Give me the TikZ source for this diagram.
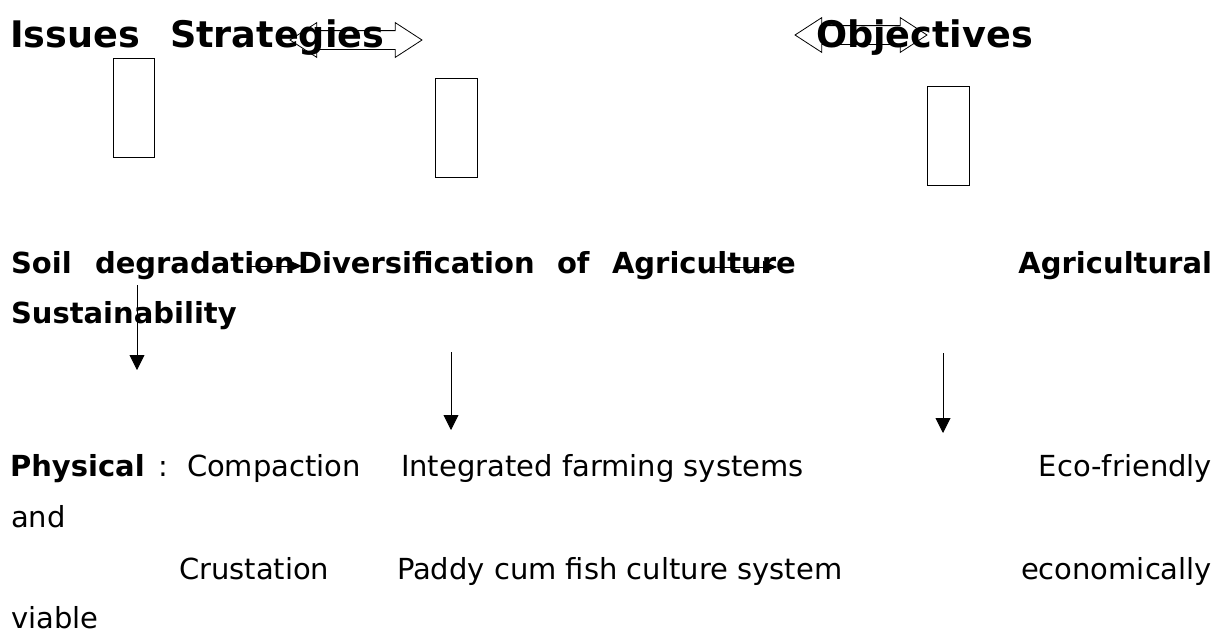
\documentclass[tikz,border=0pt]{standalone}
\usepackage{fontspec}
\setmainfont{DejaVu Sans}
\usetikzlibrary{arrows.meta, shapes.arrows}

\begin{document}
\begin{tikzpicture}[
        x=1pt, y=-1pt,
        every node/.style={inner sep=0pt, outer sep=0pt},
        titlew/.style={anchor=base west, font=\fontsize{36.6}{44}\selectfont\bfseries},
        headw/.style={anchor=base west, font=\fontsize{29}{35}\selectfont\bfseries},
        headr/.style={headw, anchor=base east},
        bodyw/.style={anchor=base west, font=\fontsize{29}{35}\selectfont},
        bodyr/.style={bodyw, anchor=base east},
        tallbox/.style={draw, line width=0.9pt, minimum width=41pt,
                        minimum height=99pt, anchor=north west},
        twoway/.style={double arrow, draw, line width=0.8pt,
                       inner xsep=0pt, inner ysep=9pt, minimum height=132pt,
                       double arrow head extend=8pt, double arrow tip angle=66},
        flow/.style={-{Triangle[length=14pt, width=12pt]}, line width=0.9pt},
        dropline/.style={-{Triangle[length=15pt, width=15pt]}, line width=0.9pt}
    ]
        \useasboundingbox (0,0) rectangle (1216,633);

        % column titles
        \node[titlew] (issues) at (10,47)  {Issues};
        \node[titlew] (strat)  at (170,47) {Strategies};
        \node[titlew] (objs)   at (816,47) {Objectives};

        \node[twoway] (swap1) at (356,40) {};
        \node[twoway] (swap2) at (861,35) {};

        \node[tallbox] (box1) at (113,58) {};
        \node[tallbox, minimum width=42pt] (box2) at (435,78) {};
        \node[tallbox, minimum width=42pt] (box3) at (927,86) {};

        % second row
        \node[headw] (soil)  at (11,273)  {Soil};
        \node[headw] (degr)  at (95,273)  {degradation};
        \node[headw] (diver) at (298,273) {Diversification};
        \node[headw] (of)    at (557,273) {of};
        \node[headw] (agri)  at (612,273) {Agriculture};
        \node[headr] (agril) at (1212,273) {Agricultural};
        \node[headw] (sust)  at (11,323)  {Sustainability};

        \coordinate (f1a) at (250,266);
        \coordinate (f1b) at (302,266);
        \coordinate (f2a) at (715,267);
        \coordinate (f2b) at (777,267);
        \draw[flow] (f1a) -- (f1b);
        \draw[flow] (f2a) -- (f2b);

        \coordinate (d1a) at (137,285);
        \coordinate (d1b) at (137,370);
        \coordinate (d2a) at (451,352);
        \coordinate (d2b) at (451,430);
        \coordinate (d3a) at (943,353);
        \coordinate (d3b) at (943,433);
        \draw[dropline] (d1a) -- (d1b);
        \draw[dropline] (d2a) -- (d2b);
        \draw[dropline] (d3a) -- (d3b);

        % lower rows
        \node[headw] (phys)  at (10,476)  {Physical};
        \node[bodyw] (colon) at (158,476) {:};
        \node[bodyw] (comp)  at (187,476) {Compaction};
        \node[bodyw] (ifs)   at (401,476) {Integrated farming systems};
        \node[bodyr] (eco)   at (1212,476) {Eco-friendly};
        \node[bodyw] (and)   at (11,527)  {and};
        \node[bodyw] (crust) at (179,579) {Crustation};
        \node[bodyw] (paddy) at (397,579) {Paddy cum fish culture system};
        \node[bodyr] (econ)  at (1212,579) {economically};
        \node[bodyw] (viab)  at (11,628)  {viable};
    \end{tikzpicture}
\end{document}
